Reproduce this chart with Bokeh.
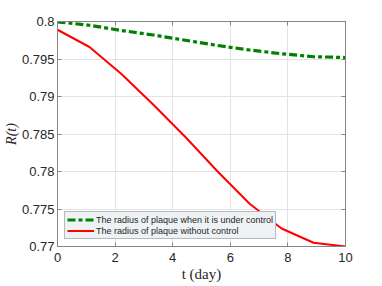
from bokeh.plotting import figure
from bokeh.models import Range1d, FixedTicker, LinearAxis, Legend, LegendItem
from bokeh.embed import file_html
from bokeh.resources import INLINE

# ---- data ----
t_days = [0, 1.11, 2.22, 3.33, 4.44, 5.56, 6.67, 7.78, 8.89, 10]
r_control = [0.79995, 0.7995, 0.7988, 0.7982, 0.7975, 0.7968, 0.7962, 0.7957, 0.7953, 0.7952]
r_no_control = [0.7989, 0.7966, 0.7930, 0.7889, 0.7846, 0.7800, 0.7757, 0.7724, 0.7705, 0.7700]
x_ticks = [0, 2, 4, 6, 8, 10]
y_ticks = [0.77, 0.775, 0.78, 0.785, 0.79, 0.795, 0.8]
y_tick_labels = ["0.77", "0.775", "0.78", "0.785", "0.79", "0.795", "0.8"]
legend_labels = ["The radius of plaque when it is under control",
                 "The radius of plaque without control"]
x_label = "t (day)"
y_label = "R(t)"

AX = "#262626"
FR = "#858585"
TICK_FONT = "Liberation Sans"

p = figure(width=366, height=284, output_backend="svg", toolbar_location=None,
           x_range=Range1d(0, 10), y_range=Range1d(0.77, 0.8),
           min_border_left=50, min_border_right=21, min_border_top=21, min_border_bottom=38)
p.outline_line_color = FR
p.outline_line_width = 1
p.background_fill_color = "white"
p.border_fill_color = "white"

for ax in [p.xaxis[0], p.yaxis[0]]:
    ax.axis_line_color = FR
    ax.major_tick_line_color = FR
    ax.major_tick_in = 4
    ax.major_tick_out = 0
    ax.minor_tick_line_color = None
    ax.major_label_text_font = TICK_FONT
    ax.major_label_text_font_size = "13px"
    ax.major_label_text_color = AX
    ax.axis_label_text_font = "Liberation Serif"
    ax.axis_label_text_font_size = "15px"
    ax.axis_label_text_color = AX
p.xaxis[0].ticker = FixedTicker(ticks=x_ticks)
p.yaxis[0].ticker = FixedTicker(ticks=y_ticks)
p.yaxis[0].major_label_overrides = {v: s for v, s in zip(y_ticks, y_tick_labels)}
p.xaxis[0].major_label_standoff = 6
p.yaxis[0].major_label_standoff = 3
p.yaxis[0].axis_label = y_label
p.yaxis[0].axis_label_text_font_style = "italic"
p.yaxis[0].axis_label_text_font_size = "14px"
p.yaxis[0].axis_label_standoff = 0
p.xaxis[0].axis_label = x_label
p.xaxis[0].axis_label_text_font_style = "normal"
p.xaxis[0].axis_label_standoff = 1

# mirror axes (ticks on top and right)
top = LinearAxis(ticker=FixedTicker(ticks=x_ticks))
right = LinearAxis(ticker=FixedTicker(ticks=y_ticks))
for ax in [top, right]:
    ax.axis_line_color = FR
    ax.major_tick_line_color = FR
    ax.major_tick_in = 4
    ax.major_tick_out = 0
    ax.minor_tick_line_color = None
    ax.major_label_text_font_size = "1px"
    ax.major_label_text_color = None
    ax.major_label_standoff = 0
p.add_layout(top, "above")
p.add_layout(right, "right")

p.xgrid.ticker = FixedTicker(ticks=x_ticks)
p.ygrid.ticker = FixedTicker(ticks=y_ticks)
p.xgrid.grid_line_color = "#e3e3e3"
p.ygrid.grid_line_color = "#e3e3e3"

g = p.line(t_days, r_control, line_color="#008000", line_width=3.2, line_dash="8 3 4 3")
r = p.line(t_days, r_no_control, line_color="#ff0000", line_width=2)

legend = Legend(items=[LegendItem(label=legend_labels[0], renderers=[g]),
                       LegendItem(label=legend_labels[1], renderers=[r])],
                location="bottom_left")
legend.margin = 7
legend.padding = 2
legend.spacing = 0
legend.label_height = 11
legend.glyph_height = 11
legend.glyph_width = 27
legend.label_standoff = 2
legend.label_text_font = TICK_FONT
legend.label_text_font_size = "9px"
legend.label_text_color = AX
legend.background_fill_color = "#eef2f4"
legend.background_fill_alpha = 1
legend.border_line_color = "#7f7f7f"
legend.border_line_width = 1
legend.item_background_fill_alpha = 0
p.add_layout(legend, "center")

open("out.html", "w").write(file_html(p, INLINE))
